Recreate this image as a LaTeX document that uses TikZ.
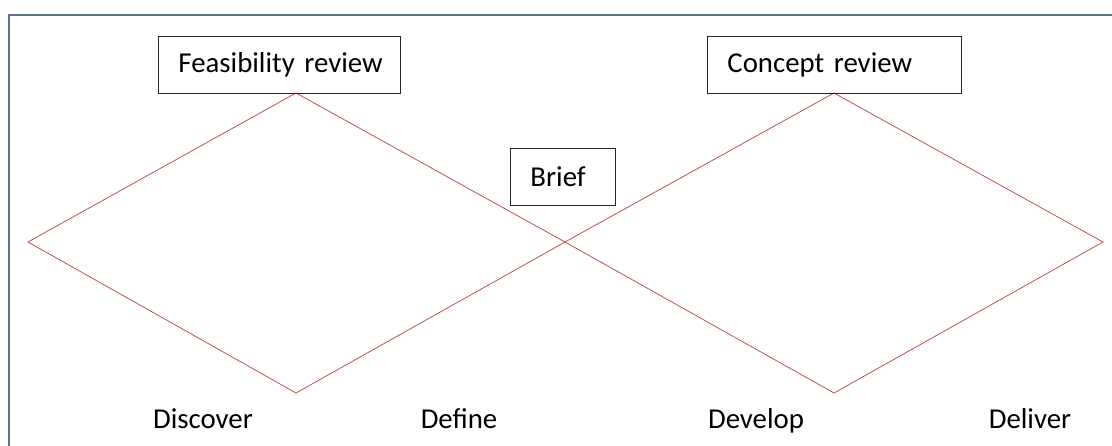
\documentclass[tikz,border=0pt]{standalone}
\usepackage{fontspec}
\setmainfont{Carlito}
\usepackage{xcolor}
\usetikzlibrary{positioning}
\definecolor{diamondred}{HTML}{C0504D}
\definecolor{framecolor}{HTML}{5E7192}

\tikzset{
  reviewbox/.style={draw=black!85, line width=0.9pt, rectangle, inner xsep=20pt,
                    inner ysep=0pt, minimum height=57pt, align=left, anchor=north west},
  phaselabel/.style={anchor=base}
}

\begin{document}
\begin{tikzpicture}[x=1pt, y=-1pt, font=\fontsize{28.8}{32}\selectfont]
  \useasboundingbox (0,0) rectangle (1112,445);
  \clip (0,0) rectangle (1112,445);
  % Outer frame
  \draw[framecolor, line width=1.6pt] (9,15) rectangle (1140,470);
  % Left diamond
  \draw[diamondred, line width=0.8pt] (28,242) -- (296,93) -- (565,242) -- (296,393) -- cycle;
  % Right diamond
  \draw[diamondred, line width=0.8pt] (565,242) -- (834,93) -- (1103,242) -- (834,393) -- cycle;
  % Review boxes
  \node[reviewbox, text width=202pt] (feasibility) at (158,36) {\mbox{Feasibility review}};
  \node[reviewbox, text width=214pt] (concept) at (707,36) {\mbox{Concept review}};
  \node[reviewbox, text width=65pt] (brief) at (510,148) {\mbox{Brief}};
  % Phase labels
  \node[phaselabel] (discover) at (203,428) {Discover};
  \node[phaselabel] (define) at (459,428) {Define};
  \node[phaselabel] (develop) at (756,428) {Develop};
  \node[phaselabel] (deliver) at (1030,428) {Deliver};
\end{tikzpicture}
\end{document}
